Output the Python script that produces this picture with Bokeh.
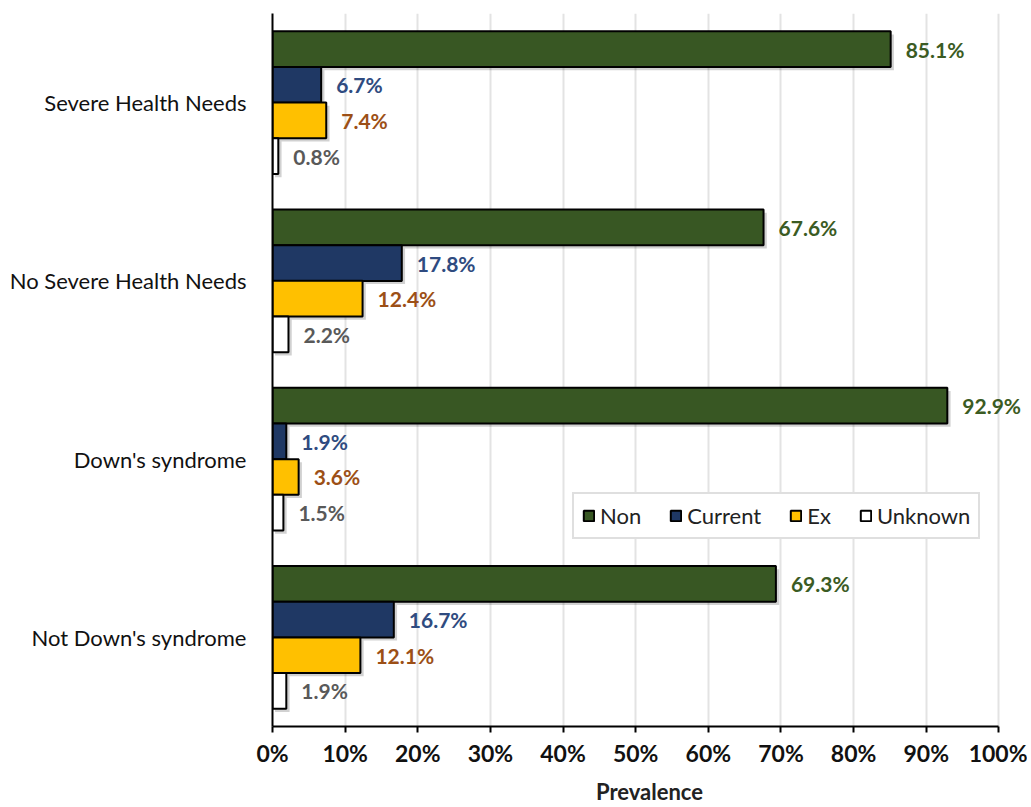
from bokeh.plotting import figure
from bokeh.models import ColumnDataSource, FactorRange, Range1d, PrintfTickFormatter, SingleIntervalTicker, Legend, LegendItem
from bokeh.transform import dodge
from bokeh.core.properties import value
from bokeh.embed import file_html
from bokeh.resources import INLINE

categories = ["Severe Health Needs", "No Severe Health Needs", "Down's syndrome", "Not Down's syndrome"]
non = [85.1, 67.6, 92.9, 69.3]
current = [6.7, 17.8, 1.9, 16.7]
ex = [7.4, 12.4, 3.6, 12.1]
unknown = [0.8, 2.2, 1.5, 1.9]

series = [
    ("Non", non, "#385723", "#3b5b23", 0.3),
    ("Current", current, "#1f3864", "#2f4b80", 0.1),
    ("Ex", ex, "#ffc000", "#9c4f16", -0.1),
    ("Unknown", unknown, "#ffffff", "#595959", -0.3),
]

src = dict(cat=categories)
for name, vals, _, _, _ in series:
    src[name] = vals
    src[name + "_lbl"] = ["%.1f%%" % v for v in vals]
source = ColumnDataSource(src)

FONT = "Lato"

p = figure(width=1027, height=807, output_backend="svg", toolbar_location=None,
           y_range=FactorRange(factors=list(reversed(categories)), range_padding=0),
           x_range=Range1d(0, 103.8),
           min_border_left=272, min_border_right=1, min_border_top=13, min_border_bottom=81)
p.outline_line_color = None

renderers = []
for name, vals, fill, tcol, off in series:
    # soft shadow
    p.hbar(y=dodge("cat", off - 0.018, range=p.y_range), left=0.35, right=dodge(name, 0.45), height=0.2,
           source=source, fill_color="#000000", fill_alpha=0.18, line_color=None)
for name, vals, fill, tcol, off in series:
    r = p.hbar(y=dodge("cat", off, range=p.y_range), left=0, right=name, height=0.2, source=source,
               fill_color=fill, line_color="#000000", line_width=2)
    renderers.append((name, r))
    p.text(x=name, y=dodge("cat", off, range=p.y_range), text=name + "_lbl", source=source,
           x_offset=15, text_align="left", text_baseline="middle",
           text_font=value(FONT), text_font_size="21px", text_font_style="bold", text_color=tcol)

legend = Legend(items=[LegendItem(label=n, renderers=[r]) for n, r in renderers],
                orientation="horizontal", location=(300, 187),
                border_line_color="#bfbfbf", border_line_width=2,
                background_fill_color="#ffffff", background_fill_alpha=1,
                glyph_width=13, glyph_height=13, label_text_font=FONT,
                label_text_font_size="22px", label_text_color="#222222",
                spacing=28, padding=8, margin=0, label_standoff=5)
p.add_layout(legend, "center")

p.xaxis.ticker = SingleIntervalTicker(interval=10, num_minor_ticks=0)
p.xaxis.bounds = (0, 100)
p.xaxis.formatter = PrintfTickFormatter(format="%d%%")
p.xaxis.axis_label = "Prevalence"
p.xaxis.axis_label_text_font = FONT
p.xaxis.axis_label_text_font_style = "bold"
p.xaxis.axis_label_text_font_size = "22px"
p.xaxis.axis_label_text_color = "#222222"
p.xaxis.axis_label_standoff = 8
p.xaxis.major_label_text_font = FONT
p.xaxis.major_label_text_font_style = "bold"
p.xaxis.major_label_text_font_size = "23px"
p.xaxis.major_label_text_color = "#111111"
p.xaxis.major_label_standoff = 6
p.xaxis.axis_line_color = "#000000"
p.xaxis.axis_line_width = 2
p.xaxis.major_tick_line_color = "#000000"
p.xaxis.major_tick_line_width = 2
p.xaxis.major_tick_out = 6
p.xaxis.major_tick_in = 0
p.xaxis.minor_tick_line_color = None

p.yaxis.major_label_text_font = FONT
p.yaxis.major_label_text_font_size = "22px"
p.yaxis.major_label_text_color = "#111111"
p.yaxis.major_label_standoff = 20
p.yaxis.axis_line_color = "#000000"
p.yaxis.axis_line_width = 2
p.yaxis.major_tick_line_color = None
p.yaxis.minor_tick_line_color = None

p.xgrid.grid_line_color = "#e3e3e3"
p.xgrid.grid_line_width = 2
p.xgrid.bounds = (0, 100)
p.ygrid.grid_line_color = None

open("out.html", "w").write(file_html(p, INLINE))
